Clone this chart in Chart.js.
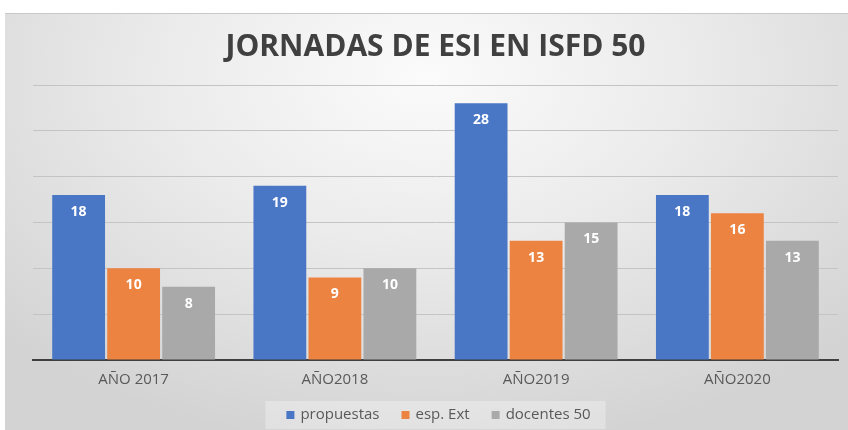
<!DOCTYPE html>
<html><head><meta charset="utf-8">
<script src="https://cdn.jsdelivr.net/npm/chart.js@4"></script>
<style>
html,body{margin:0;padding:0;background:#fff;width:848px;height:430px;overflow:hidden}
#wrap{position:absolute;left:5px;top:13px;width:843px;height:417px;
background:radial-gradient(ellipse 70% 90% at 50% 15%, #fbfbfb 0%, #ebebeb 45%, #d3d3d3 100%);
border-top:1px solid #c8c8c8}
canvas{display:block}
</style></head>
<body><div id="wrap"><canvas id="c" width="843" height="417"></canvas></div>
<script>
const categories = ["AÑO 2017", "AÑO2018", "AÑO2019", "AÑO2020"];
const propuestas = [18, 19, 28, 18];
const espExt = [10, 9, 13, 16];
const docentes50 = [8, 10, 15, 13];
const seriesNames = ["propuestas", "esp. Ext", "docentes 50"];
const seriesColors = ["#4a76c6", "#ec8341", "#a9a9a9"];

const FONT = "'Open Sans', 'Liberation Sans', sans-serif";

const valueLabels = {
  id: 'valueLabels',
  afterDatasetsDraw(chart) {
    const ctx = chart.ctx;
    ctx.save();
    ctx.fillStyle = '#ffffff';
    ctx.font = 'bold 14px ' + FONT;
    ctx.textAlign = 'center';
    ctx.textBaseline = 'middle';
    chart.data.datasets.forEach((ds, i) => {
      const meta = chart.getDatasetMeta(i);
      meta.data.forEach((el, j) => {
        ctx.fillText(String(ds.data[j]), el.x, el.y + 17);
      });
    });
    ctx.restore();
  }
};

// custom legend drawn below the axis, with a light background box
const customLegend = {
  id: 'customLegend',
  afterDraw(chart) {
    const ctx = chart.ctx;
    const ca = chart.chartArea;
    ctx.save();
    ctx.font = '15px ' + FONT;
    const box = 8, gapText = 6, gapItem = 22;
    const items = chart.data.datasets.map(ds => ({ text: ds.label, color: ds.backgroundColor, w: ctx.measureText(ds.label).width }));
    let total = 0;
    items.forEach((it, i) => { total += box + gapText + it.w + (i < items.length - 1 ? gapItem : 0); });
    const cx = (ca.left + ca.right) / 2 + 3;
    const cy = 401;
    let x = cx - total / 2;
    ctx.fillStyle = 'rgba(255,255,255,0.3)';
    ctx.fillRect(x - 21, cy - 14, total + 36, 28);
    ctx.textBaseline = 'middle';
    ctx.textAlign = 'left';
    items.forEach(it => {
      ctx.fillStyle = it.color;
      ctx.fillRect(x, cy - box / 2, box, box);
      x += box + gapText;
      ctx.fillStyle = '#595959';
      ctx.fillText(it.text, x, cy);
      x += it.w + gapItem;
    });
    ctx.restore();
  }
};

new Chart(document.getElementById('c'), {
  type: 'bar',
  data: {
    labels: categories,
    datasets: seriesNames.map((name, i) => ({
      label: name,
      data: [propuestas, espExt, docentes50][i],
      backgroundColor: seriesColors[i]
    }))
  },
  options: {
    responsive: false,
    animation: false,
    layout: { padding: { left: 28, right: 10, top: 0, bottom: 31 } },
    datasets: { bar: { categoryPercentage: 0.82, barPercentage: 0.96 } },
    scales: {
      x: {
        grid: { display: false, drawTicks: false },
        border: { display: true, color: '#3f3f3f', width: 2 },
        ticks: { color: '#595959', font: { family: FONT, size: 15 }, padding: 11 }
      },
      y: {
        min: 0, max: 30,
        ticks: { display: false, stepSize: 5 },
        grid: { color: '#c4c4c4', lineWidth: 1, drawTicks: false },
        border: { display: false }
      }
    },
    plugins: {
      title: {
        display: true,
        text: 'JORNADAS DE ESI EN ISFD 50',
        color: '#404040',
        font: { family: FONT, size: 30, weight: 'bold' },
        padding: { top: 15, bottom: 20 }
      },
      legend: { display: false },
      tooltip: { enabled: false }
    }
  },
  plugins: [valueLabels, customLegend]
});
</script>
</body></html>
